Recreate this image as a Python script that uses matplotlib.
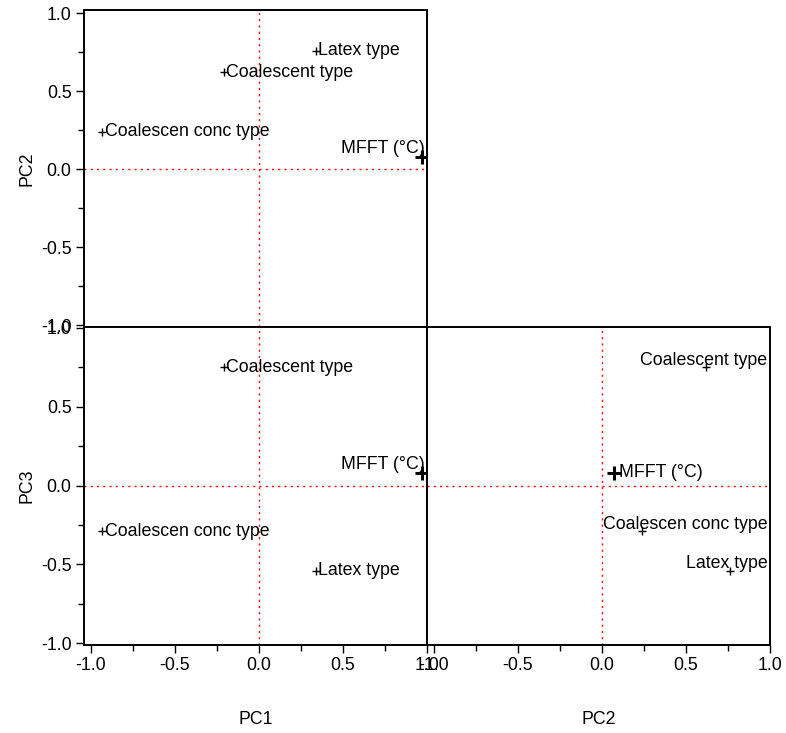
import matplotlib
matplotlib.use("Agg")
import matplotlib.pyplot as plt
from matplotlib.ticker import MultipleLocator
from matplotlib.transforms import blended_transform_factory

plt.rcParams['font.family'] = ['Liberation Sans', 'DejaVu Sans']

# loadings
labels = ["MFFT (°C)", "Latex type", "Coalescent type", "Coalescen conc type"]
pc1 = [0.97, 0.34, -0.21, -0.93]
pc2 = [0.075, 0.76, 0.62, 0.24]
pc3 = [0.08, -0.54, 0.75, -0.29]

fig = plt.figure(figsize=(7.86, 7.33), dpi=100)

W, H = 786, 733
def box(l, t, r, b):
    return [l / W, 1 - b / H, (r - l) / W, (b - t) / H]

ax12 = fig.add_axes(box(84, 10, 427, 327))   # PC1 vs PC2
ax13 = fig.add_axes(box(84, 327, 427, 645))  # PC1 vs PC3
ax23 = fig.add_axes(box(427, 327, 770, 645)) # PC2 vs PC3

fs = 12.8

def style(ax, ylim, show_x, show_y):
    ax.set_xlim(-1.04, 1.0)
    ax.set_ylim(*ylim)
    ax.axhline(0, color='red', ls=(0, (1.5, 3)), lw=1)
    ax.axvline(0, color='red', ls=(0, (1.5, 3)), lw=1)
    for s in ax.spines.values():
        s.set_linewidth(1.4)
        s.set_color('black')
    ax.xaxis.set_major_locator(MultipleLocator(0.5))
    ax.xaxis.set_minor_locator(MultipleLocator(0.25))
    ax.yaxis.set_major_locator(MultipleLocator(0.5))
    ax.yaxis.set_minor_locator(MultipleLocator(0.25))
    ax.tick_params(which='both', direction='out', labelsize=fs, width=1)
    ax.tick_params(which='major', length=6, pad=3)
    ax.tick_params(which='minor', length=4)
    ax.xaxis.set_major_formatter(plt.FormatStrFormatter('%.1f'))
    ax.yaxis.set_major_formatter(plt.FormatStrFormatter('%.1f'))
    if not show_x:
        ax.tick_params(axis='x', which='both', bottom=False, labelbottom=False)
    if not show_y:
        ax.tick_params(axis='y', which='both', left=False, labelleft=False)

style(ax12, (-1.012, 1.02), False, True)
style(ax13, (-1.012, 1.006), True, True)
style(ax23, (-1.012, 1.006), True, False)

def plot_left(ax, xs, ys):
    for i, (x, y, lab) in enumerate(zip(xs, ys, labels)):
        if i == 0:
            ax.plot(x, y, marker='+', ms=10, mew=2.2, color='black')
            ax.annotate(lab, (x, y), xytext=(2, 0), textcoords='offset points',
                        ha='right', va='bottom', fontsize=fs)
        else:
            ax.plot(x, y, marker='+', ms=6, mew=1, color='black')
            ax.annotate(lab, (x, y), xytext=(1.5, 0), textcoords='offset points',
                        ha='left', va='center', fontsize=fs)

plot_left(ax12, pc1, pc2)
plot_left(ax13, pc1, pc3)

tr = blended_transform_factory(ax23.transAxes, ax23.transData)
for i, (x, y, lab) in enumerate(zip(pc2, pc3, labels)):
    if i == 0:
        ax23.plot(x, y, marker='+', ms=10, mew=2.2, color='black')
        ax23.annotate(lab, (x, y), xytext=(3, 0), textcoords='offset points',
                      ha='left', va='center', fontsize=fs)
    else:
        ax23.plot(x, y, marker='+', ms=6, mew=1, color='black')
        ax23.text(0.992, y + 0.045, lab, transform=tr, ha='right', va='center', fontsize=fs)

ax13.set_xlabel("PC1", fontsize=fs, labelpad=26)
ax23.set_xlabel("PC2", fontsize=fs, labelpad=26)
ax12.set_ylabel("PC2", fontsize=fs, labelpad=4)
ax13.set_ylabel("PC3", fontsize=fs, labelpad=4)

fig.savefig("out.png", dpi=100)
